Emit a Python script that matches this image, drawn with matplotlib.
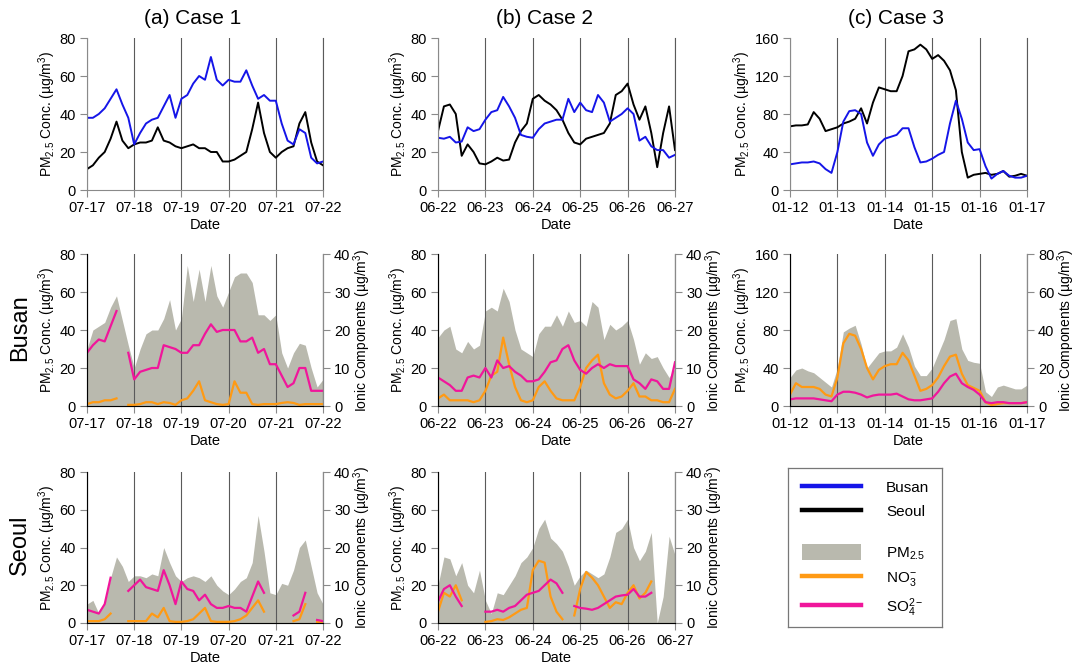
import numpy as np
import matplotlib
matplotlib.use("Agg")
import matplotlib.pyplot as plt
from matplotlib.lines import Line2D
from matplotlib.patches import Patch

plt.rcParams["font.family"] = ["Liberation Sans", "DejaVu Sans"]
plt.rcParams["mathtext.fontset"] = "custom"
plt.rcParams["mathtext.rm"] = "Liberation Sans"
plt.rcParams["mathtext.it"] = "Liberation Sans:italic"
plt.rcParams["mathtext.bf"] = "Liberation Sans:bold"

nan = np.nan

# time axis: hours from the first day, 3-hourly readings
hours = np.arange(0, 121, 3)

case1_days = ["07-17", "07-18", "07-19", "07-20", "07-21", "07-22"]
case2_days = ["06-22", "06-23", "06-24", "06-25", "06-26", "06-27"]
case3_days = ["01-12", "01-13", "01-14", "01-15", "01-16", "01-17"]

# ---- case 1 ----
case1_busan = [38, 38, 40, 43, 48, 53, 45, 38, 24, 30, 35, 37, 38, 44, 50, 38, 48, 50, 56, 60,
               58, 70, 58, 55, 58, 57, 57, 63, 55, 48, 50, 47, 47, 35, 26, 24, 32, 30, 17, 14, 15]
case1_seoul = [11, 13, 17, 20, 27, 36, 26, 22, 24, 25, 25, 26, 33, 26, 25, 23, 22, 23, 24, 22,
               22, 20, 20, 15, 15, 16, 18, 20, 32, 46, 30, 20, 17, 20, 22, 23, 35, 41, 25, 15, 13]
case1_busan_pm = [30, 40, 42, 44, 52, 58, 45, 32, 20, 30, 38, 40, 40, 46, 56, 40, 46, 74, 55, 72,
                  55, 74, 58, 52, 60, 68, 70, 70, 65, 48, 48, 45, 48, 28, 20, 28, 33, 32, 20, 10, 14]
case1_busan_no3 = [0.5, 1, 1, 1.5, 1.5, 2, nan, 0.3, 0.3, 0.5, 1, 1, 0.5, 1, 0.8, 0.3, 1.5, 2, 4, 6.5,
                   1.5, 1, 0.5, 0.3, 0.5, 6.5, 3.5, 3.5, 0.5, 0.3, 0.5, 0.5, 0.5, 0.8, 1, 0.8, 0.3, 0.5, 0.5, 0.5, 0.5]
case1_busan_so4 = [14, 16, 17.5, 17, 21, 25, nan, 14, 7, 9, 9.5, 10, 10, 16, 15.5, 15, 14, 14, 16, 16,
                   19, 21.5, 19.5, 20, 20, 20, 17, 17, 18, 14, 15, 11, 11, 8, 5, 6, 10, 10, 4, 4, 4]
case1_seoul_pm = [10, 12, 5, 10, 24, 35, 30, 22, 25, 25, 24, 26, 25, 40, 32, 25, 22, 24, 25, 24,
                  22, 25, 20, 17, 15, 18, 22, 24, 32, 57, 38, 16, 15, 21, 20, 28, 40, 44, 30, 16, 10]
case1_seoul_no3 = [0.5, 0.5, 0.5, 1, 2.5, nan, nan, 0.5, 0.5, 0.5, 0.5, 2.5, 1.5, 4, 0.5, 0.3, 0.3, 0.5, 1, 2.5,
                   4, 0.5, 0.3, 0.3, 0.3, 0.5, 1, 2, 4, 6, 3, nan, nan, nan, nan, 0.5, 1, 5, nan, 0.3, 0.3]
case1_seoul_so4 = [3.5, 3, 2.5, 5, 12, nan, nan, 8.5, 10, 11.5, 9.5, 9, 8.5, 14, 10, 5, 11, 9, 8.5, 6,
                   7.5, 5, 4, 4, 4.5, 4, 4, 3, 7, 11, 8, nan, nan, nan, nan, 2, 3, 8, nan, 0.8, 0.5]

# ---- case 2 ----
case2_busan = [27.5, 27, 28, 25, 25.5, 33, 31, 32, 37, 41, 42, 49, 44, 38, 29, 28, 27.5, 32, 35, 36,
               37, 37, 48, 41, 46, 42, 41, 50, 46, 36, 38, 40, 43, 40, 26, 28, 23, 21, 21, 17, 18.5]
case2_seoul = [31, 44, 45, 40, 18, 24, 20, 14, 13.5, 15, 17, 15.5, 16, 25, 31, 35, 48, 50, 47, 45,
               42, 37, 30, 25, 24, 27, 28, 29, 30, 35, 50, 52, 56, 45, 37, 44, 30, 12, 30, 44, 21]
case2_busan_pm = [36, 40, 42, 30, 28, 34, 30, 32, 50, 52, 50, 62, 55, 40, 30, 28, 26, 38, 42, 42,
                  48, 42, 50, 44, 45, 42, 55, 52, 35, 43, 40, 42, 45, 35, 22, 28, 25, 26, 20, 15, 20]
case2_busan_no3 = [2, 3, 1.5, 1.5, 1.5, 1.5, 1, 1.5, 4, 8, 9, 18, 11, 5, 1.5, 1, 1.5, 5, 6.5, 4,
                   2, 1.5, 1.5, 1.5, 5, 10, 12, 13.5, 6, 3, 2, 2.5, 4, 6, 2.5, 2.5, 1.5, 1.5, 1, 1, 4.5]
case2_busan_so4 = [7.5, 6.5, 5.5, 4, 4, 7.5, 8, 7.5, 10, 7.5, 12, 10, 10.5, 9, 8, 6.5, 6.5, 7, 9, 11.5,
                   12, 15, 16, 12, 9.5, 8.5, 10, 11, 10, 11, 10.5, 10.5, 10.5, 7, 6, 4.5, 7, 6.5, 4.5, 4.5, 11.5]
case2_seoul_pm = [20, 35, 34, 25, 32, 20, 16, 28, 12, 5, 16, 15, 20, 25, 32, 35, 40, 50, 55, 45,
                  42, 38, 30, 20, 25, 28, 26, 24, 26, 35, 48, 50, 55, 40, 33, 38, 48, 0, 14, 46, 36]
case2_seoul_no3 = [3, 8, 7, 10, 6, nan, nan, nan, 0.3, 0.5, 1, 0.8, 1.5, 2.5, 3.5, 4, 14, 16.5, 16, 7,
                   3, 1, nan, 2, 9, 13.5, 12, 10, 7, 4, 5.5, 5, 8, 10, 6.5, 8, 11, nan, nan, nan, nan]
case2_seoul_so4 = [5.7, 9, 10, 7, 4.5, nan, nan, nan, 3, 3, 3.5, 3, 4, 4.5, 6, 7.5, 8, 8.5, 10, 11.5,
                   10.5, 8, nan, 4.5, 4, 3.8, 3.5, 4, 5, 6, 7, 7.3, 7.5, 9, 7, 7, 8, nan, nan, nan, nan]

# ---- case 3 ----
case3_busan = [27, 28, 29, 29, 30, 28, 22, 18, 40, 72, 83, 84, 80, 50, 36, 48, 54, 56, 58, 65,
               65, 45, 29, 30, 33, 37, 40, 70, 94, 75, 50, 42, 43, 25, 12, 17, 20, 15, 13, 13, 15]
case3_seoul = [67, 68, 68, 69, 82, 75, 62, 64, 66, 70, 72, 75, 86, 70, 92, 108, 106, 104, 104, 120,
               146, 148, 153, 148, 138, 142, 136, 126, 105, 40, 13, 16, 17, 18, 16, 17, 20, 14, 15, 17, 15]
case3_busan_pm = [30, 38, 40, 37, 35, 30, 25, 20, 40, 78, 82, 85, 65, 40, 48, 56, 58, 58, 62, 76,
                  62, 42, 32, 32, 40, 55, 70, 90, 92, 60, 48, 46, 45, 15, 10, 20, 22, 20, 18, 18, 22]
case3_busan_no3 = [6, 12, 10, 10, 10, 9, 6, 5, 15, 33, 38, 37, 30, 20, 14, 19, 21, 22, 22, 28,
                   24, 16, 8, 9, 11, 15, 21, 26, 27, 17, 11, 9.5, 8, 2, 0.5, 1, 1.5, 1.5, 1.5, 1.5, 2]
case3_busan_so4 = [3.5, 4, 4, 4, 4, 3.5, 3, 2.5, 6, 7.5, 7.5, 7, 6, 4.5, 5.5, 6, 6, 6, 6.5, 5,
                   3.5, 3, 3, 3.5, 4, 7.5, 12, 15.5, 17, 12, 10, 8.5, 6, 2, 1.5, 2, 2, 1.5, 1.5, 1.5, 2]

BLUE = "#1515e8"
BLACK = "#000000"
GRAY = "#b9b9ae"
ORANGE = "#ff9a14"
PINK = "#f0169b"
SPINE = "#8a8a8a"

W, H = 1078, 672
fig = plt.figure(figsize=(W / 100, H / 100), dpi=100)


def box(left, top, right, bottom):
    return [left / W, 1 - bottom / H, (right - left) / W, (bottom - top) / H]


PM_LABEL = r"PM$_{2.5}$ Conc. (µg/m$^3$)"
ION_LABEL = r"Ionic Components (µg/m$^3$)"


def style(ax, days, ymax):
    ax.set_xlim(0, 120)
    ax.set_xticks(np.arange(0, 121, 24))
    ax.set_xticklabels(days)
    ax.set_ylim(0, ymax)
    ax.set_yticks(np.linspace(0, ymax, 5))
    ax.grid(axis="x", color="#5a5a5a", lw=0.8)
    ax.spines["top"].set_visible(False)
    for s in ["left", "bottom"]:
        ax.spines[s].set_color(SPINE)
    ax.spines["right"].set_color("#5a5a5a")
    ax.tick_params(direction="out", length=5, width=0.8, color=SPINE, labelsize=10.5, pad=3)
    ax.set_xlabel("Date", fontsize=10.5, labelpad=2)
    ax.set_ylabel(PM_LABEL, fontsize=10, labelpad=1)
    ax.patch.set_alpha(0)


def conc_panel(rect, days, ymax, busan, seoul):
    ax = fig.add_axes(rect)
    ax.plot(hours, seoul, color=BLACK, lw=1.4)
    ax.plot(hours, busan, color=BLUE, lw=1.4)
    style(ax, days, ymax)
    return ax


def ion_panel(rect, days, ymax, pm, no3, so4):
    ax = fig.add_axes(rect)
    ax.fill_between(hours, 0, pm, color=GRAY, lw=0)
    style(ax, days, ymax)
    tw = ax.twinx()
    tw.plot(hours, no3, color=ORANGE, lw=1.6)
    tw.plot(hours, so4, color=PINK, lw=1.6)
    tw.set_ylim(0, ymax / 2)
    tw.set_yticks(np.linspace(0, ymax / 2, 5))
    tw.spines["top"].set_visible(False)
    tw.spines["right"].set_color(SPINE)
    tw.tick_params(direction="out", length=5, width=0.8, color=SPINE, labelsize=10.5, pad=3)
    tw.set_ylabel(ION_LABEL, fontsize=10, labelpad=1)
    return ax


cols = [(87, 323), (438, 675), (790, 1027)]
rows = [(38, 190), (254, 406), (472, 623)]

conc_panel(box(cols[0][0], rows[0][0], cols[0][1], rows[0][1]), case1_days, 80, case1_busan, case1_seoul)
conc_panel(box(cols[1][0], rows[0][0], cols[1][1], rows[0][1]), case2_days, 80, case2_busan, case2_seoul)
conc_panel(box(cols[2][0], rows[0][0], cols[2][1], rows[0][1]), case3_days, 160, case3_busan, case3_seoul)

ion_panel(box(cols[0][0], rows[1][0], cols[0][1], rows[1][1]), case1_days, 80,
          case1_busan_pm, case1_busan_no3, case1_busan_so4)
ion_panel(box(cols[1][0], rows[1][0], cols[1][1], rows[1][1]), case2_days, 80,
          case2_busan_pm, case2_busan_no3, case2_busan_so4)
ion_panel(box(cols[2][0], rows[1][0], cols[2][1], rows[1][1]), case3_days, 160,
          case3_busan_pm, case3_busan_no3, case3_busan_so4)

ion_panel(box(cols[0][0], rows[2][0], cols[0][1], rows[2][1]), case1_days, 80,
          case1_seoul_pm, case1_seoul_no3, case1_seoul_so4)
ion_panel(box(cols[1][0], rows[2][0], cols[1][1], rows[2][1]), case2_days, 80,
          case2_seoul_pm, case2_seoul_no3, case2_seoul_so4)

# column titles and row labels
titles = ["(a) Case 1", "(b) Case 2", "(c) Case 3"]
for (l, r), t in zip(cols, titles):
    fig.text(((l + r) / 2 - 12) / W, 1 - 19 / H, t, fontsize=15, ha="center", va="center")
fig.text(20 / W, 1 - 328 / H, "Busan", fontsize=17, rotation=90, ha="center", va="center")
fig.text(20 / W, 1 - 545 / H, "Seoul", fontsize=17, rotation=90, ha="center", va="center")

# legend panel
lax = fig.add_axes(box(788, 468, 942, 627))
lax.set_xticks([])
lax.set_yticks([])
for s in lax.spines.values():
    s.set_color("#777777")
    s.set_linewidth(0.9)

h1 = [Line2D([], [], color=BLUE, lw=3.2), Line2D([], [], color=BLACK, lw=3.2)]
leg1 = lax.legend(h1, ["Busan", "Seoul"], loc="upper left", bbox_to_anchor=(0.09, 0.92),
                  frameon=False, fontsize=11, handlelength=3.9, handletextpad=1.6,
                  borderpad=0, borderaxespad=0, labelspacing=0.65)
lax.add_artist(leg1)
h2 = [Patch(facecolor=GRAY, edgecolor="none"), Line2D([], [], color=ORANGE, lw=3.2),
      Line2D([], [], color=PINK, lw=3.2)]
lax.legend(h2, [r"PM$_{2.5}$", r"NO$_3^{-}$", r"SO$_4^{2-}$"], loc="upper left",
           bbox_to_anchor=(0.09, 0.52), frameon=False, fontsize=11, handlelength=3.9,
           handleheight=1.2, handletextpad=1.6, borderpad=0, borderaxespad=0, labelspacing=0.5)

fig.savefig("out.png", dpi=100)
